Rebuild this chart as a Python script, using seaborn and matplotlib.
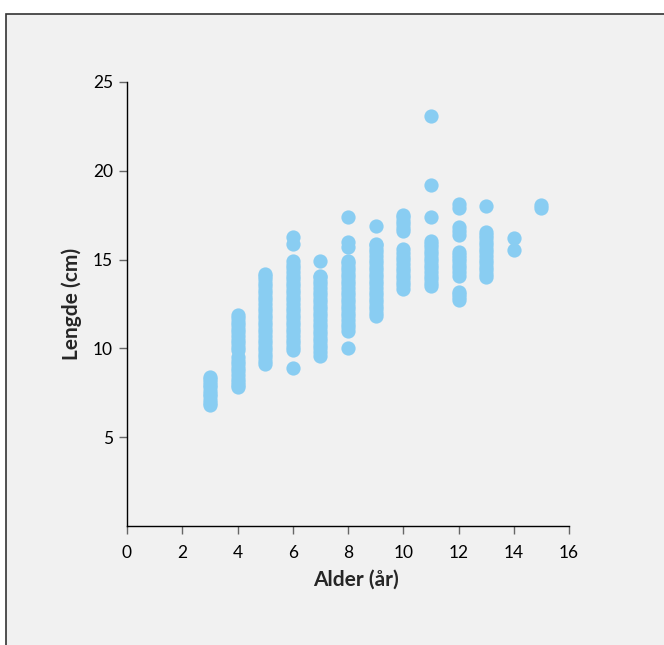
import matplotlib
matplotlib.use("Agg")
import matplotlib.pyplot as plt
from matplotlib.patches import Rectangle
import seaborn as sns
import pandas as pd

# Data: length (cm) per age (years)
age3 = [6.8, 6.95, 7.1, 7.3, 7.45, 7.6, 7.8, 7.95, 8.1, 8.25, 8.4]
age4 = [7.8, 7.95, 8.1, 8.3, 8.5, 8.7, 8.9, 9.1, 9.3, 9.5, 9.9, 10.1, 10.3, 10.5,
        10.7, 10.9, 11.1, 11.3, 11.5, 11.7, 11.9]
age5 = [9.1, 9.3, 9.5, 9.7, 9.9, 10.1, 10.3, 10.5, 10.7, 10.9, 11.1, 11.3, 11.5,
        11.7, 11.9, 12.1, 12.3, 12.5, 12.7, 12.9, 13.1, 13.3, 13.5, 13.7, 13.9,
        14.05, 14.2]
age6 = [8.9, 9.9, 10.1, 10.3, 10.5, 10.7, 10.9, 11.1, 11.3, 11.5, 11.7, 11.9, 12.1,
        12.3, 12.5, 12.7, 12.9, 13.1, 13.3, 13.5, 13.7, 13.9, 14.1, 14.3, 14.5,
        14.7, 14.9, 15.9, 16.3]
age7 = [9.6, 9.8, 10.0, 10.2, 10.4, 10.6, 10.8, 11.0, 11.2, 11.4, 11.6, 11.8, 12.0,
        12.2, 12.4, 12.6, 12.8, 13.0, 13.2, 13.4, 13.6, 13.8, 14.0, 14.1, 14.9]
age8 = [10.0, 11.0, 11.2, 11.4, 11.6, 11.8, 12.0, 12.2, 12.4, 12.6, 12.8, 13.0,
        13.2, 13.4, 13.6, 13.8, 14.0, 14.2, 14.4, 14.6, 14.8, 14.9, 15.7, 16.0, 17.4]
age9 = [11.8, 12.0, 12.2, 12.4, 12.6, 12.8, 13.0, 13.2, 13.4, 13.6, 13.8, 14.0,
        14.2, 14.4, 14.6, 14.8, 15.0, 15.2, 15.4, 15.6, 15.8, 15.9, 16.9]
age10 = [13.35, 13.55, 13.75, 13.95, 14.15, 14.35, 14.55, 14.75, 14.95, 15.15,
         15.35, 15.6, 16.6, 16.8, 17.0, 17.2, 17.4, 17.5]
age11 = [13.5, 13.7, 13.9, 14.1, 14.3, 14.5, 14.7, 14.9, 15.1, 15.3, 15.5, 15.7,
         15.9, 16.05, 17.4, 19.2, 23.1]
age12 = [12.7, 12.9, 13.05, 13.2, 14.1, 14.3, 14.5, 14.7, 14.9, 15.1, 15.25, 15.4,
         16.4, 16.6, 16.85, 17.9, 18.15]
age13 = [14.0, 14.2, 14.4, 14.6, 14.8, 15.0, 15.2, 15.4, 15.6, 15.8, 16.0, 16.2,
         16.4, 16.55, 18.0]
age14 = [15.55, 16.2]
age15 = [17.9, 18.1]

ages = [3, 4, 5, 6, 7, 8, 9, 10, 11, 12, 13, 14, 15]
lengths = [age3, age4, age5, age6, age7, age8, age9, age10, age11, age12, age13,
           age14, age15]

df = pd.DataFrame(
    [(a, v) for a, vals in zip(ages, lengths) for v in vals],
    columns=["Alder", "Lengde"],
)

sns.set_theme(style="ticks")
plt.rcParams["font.family"] = ["Lato", "DejaVu Sans"]

fig = plt.figure(figsize=(6.64, 6.45), dpi=100, facecolor="white")
# framed gray panel
fig.patches.append(Rectangle((6 / 664, -0.01), 1.0, (645 - 14) / 645 + 0.01,
                             transform=fig.transFigure, facecolor="#f1f1f1",
                             edgecolor="#333333", linewidth=1.2, zorder=-10))

ax = fig.add_axes([127 / 664, 1 - 526 / 645, (569 - 127) / 664, (526 - 82) / 645])
ax.set_facecolor("none")

sns.scatterplot(data=df, x="Alder", y="Lengde", ax=ax, color="#89cdf2",
                s=105, linewidth=0, alpha=1, legend=False)

ax.set_xlim(0, 16)
ax.set_ylim(0, 25)
ax.set_xticks(range(0, 17, 2))
ax.set_yticks([5, 10, 15, 20, 25])
ax.tick_params(axis="both", direction="out", length=6, width=1, color="#666666",
               labelsize=12.5, labelcolor="black")
ax.tick_params(axis="x", pad=8)
ax.tick_params(axis="y", pad=4)
for side in ["top", "right"]:
    ax.spines[side].set_visible(False)
for side in ["left", "bottom"]:
    ax.spines[side].set_color("black")
    ax.spines[side].set_linewidth(1)

ax.set_xlabel("Alder (år)", fontsize=15, fontweight="bold")
ax.set_ylabel("Lengde (cm)", fontsize=15, fontweight="bold")
ax.xaxis.set_label_coords(0.518, -0.098)
ax.yaxis.set_label_coords(-0.102, 0.5)

fig.savefig("out.png", dpi=100, facecolor="white")
